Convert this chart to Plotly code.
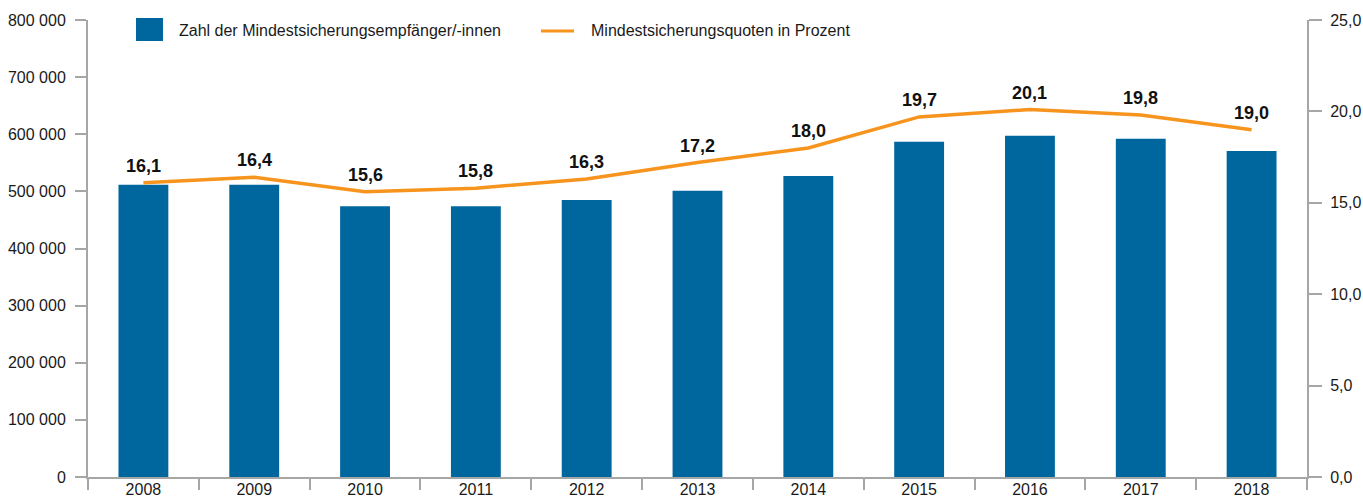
import plotly.graph_objects as go

# ========== DATA ==========
years = ["2008", "2009", "2010", "2011", "2012", "2013",
         "2014", "2015", "2016", "2017", "2018"]
recipients = [511500, 511500, 474000, 474000, 484800, 501000,
              527000, 586800, 597300, 592000, 570500]
quota = [16.1, 16.4, 15.6, 15.8, 16.3, 17.2, 18.0, 19.7, 20.1, 19.8, 19.0]

left_ticks = [0, 100000, 200000, 300000, 400000, 500000, 600000, 700000, 800000]
right_ticks = [0, 5, 10, 15, 20, 25]

bar_name = "Zahl der Mindestsicherungsempfänger/-innen"
line_name = "Mindestsicherungsquoten in Prozent"

BLUE = "#00669e"
ORANGE = "#f7941d"
GREY = "#a6a6a6"
TXT = "#1a1a1a"
FONT = "Arial, Liberation Sans, sans-serif"

quota_text = [f"{v:.1f}".replace(".", ",") for v in quota]

fig = go.Figure()
fig.add_trace(go.Bar(x=years, y=recipients, name=bar_name,
                     marker=dict(color=BLUE, line=dict(width=0)),
                     width=0.45, showlegend=False))
fig.add_trace(go.Scatter(x=years, y=quota, name=line_name, yaxis="y2",
                         mode="lines", line=dict(color=ORANGE, width=3.5),
                         showlegend=False))

# value labels above the line (category index positions)
for i, (v, t) in enumerate(zip(quota, quota_text)):
    fig.add_annotation(x=i, y=v, xref="x", yref="y2", text=t, showarrow=False,
                       yanchor="middle", yshift=17,
                       font=dict(size=18, color="#111111", family=FONT, weight="bold"))

tick_font = dict(size=16, color=TXT, family=FONT)

fig.update_layout(
    width=1363, height=497,
    margin=dict(l=88, r=56, t=20, b=20, autoexpand=False),
    plot_bgcolor="white", paper_bgcolor="white",
    separators=", ",
    font=dict(family=FONT, size=16, color=TXT),
    xaxis=dict(type="category", categoryorder="array", categoryarray=years,
               range=[-0.5, len(years) - 0.5],
               tickson="boundaries", showgrid=False, showline=True,
               linecolor=GREY, linewidth=2, ticks="outside", tickcolor=GREY,
               tickwidth=2, ticklen=11, ticklabelstandoff=-3, tickfont=tick_font),
    yaxis=dict(range=[0, 800000], tickvals=left_ticks, tickformat=",d",
               showgrid=False, zeroline=False, showline=True, linecolor=GREY,
               linewidth=2, ticks="outside", tickcolor=GREY, tickwidth=2,
               ticklen=11, ticklabelstandoff=6, tickfont=tick_font),
    yaxis2=dict(range=[0, 25], tickvals=right_ticks, tickformat=".1f", overlaying="y",
                side="right", showgrid=False, zeroline=False, showline=True,
                linecolor=GREY, linewidth=2, ticks="outside", tickcolor=GREY,
                tickwidth=2, ticklen=13, ticklabelstandoff=5, tickfont=tick_font),
)

# ========== LEGEND (drawn by hand for the large swatch) ==========
fig.add_shape(type="rect", xref="paper", yref="paper",
              x0=(136 - 88) / 1219, x1=(163 - 88) / 1219,
              y0=(477 - 41) / 457, y1=(477 - 18) / 457,
              fillcolor=BLUE, line=dict(width=0))
fig.add_shape(type="line", xref="paper", yref="paper",
              x0=(541 - 88) / 1219, x1=(574 - 88) / 1219,
              y0=(477 - 31) / 457, y1=(477 - 31) / 457,
              line=dict(color=ORANGE, width=3))
fig.add_annotation(text=bar_name, xref="paper", yref="paper",
                   x=(177 - 88) / 1219, y=(477 - 31) / 457,
                   xanchor="left", yanchor="middle", showarrow=False,
                   font=dict(size=16, color=TXT, family=FONT))
fig.add_annotation(text=line_name, xref="paper", yref="paper",
                   x=(589 - 88) / 1219, y=(477 - 31) / 457,
                   xanchor="left", yanchor="middle", showarrow=False,
                   font=dict(size=16, color=TXT, family=FONT))

# drop the default body margin so the figure fills the window exactly
fig.write_html("out.html", config={"displayModeBar": False},
               post_script="document.body.style.margin='0px';")
